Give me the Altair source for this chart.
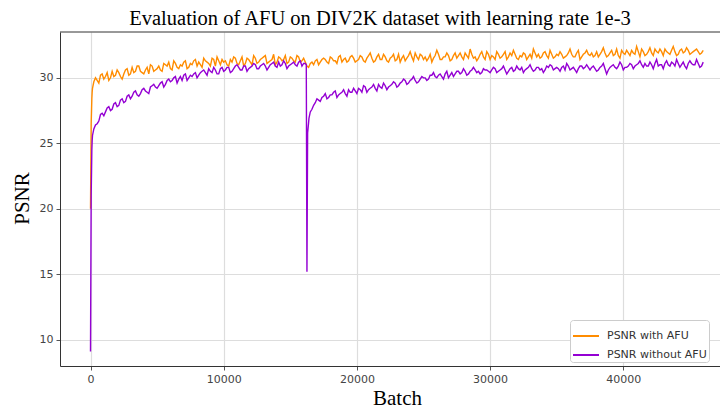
import altair as alt
import pandas as pd

TITLE = "Evaluation of AFU on DIV2K dataset with learning rate 1e-3"
SERIES = ["PSNR with AFU", "PSNR without AFU"]
COLORS = ["#FF8C00", "#9400D3"]
X_TICKS = [0, 10000, 20000, 30000, 40000]
Y_TICKS = [10, 15, 20, 25, 30]

# sampled batch positions: every 250 batches (plus a few early points) ...
BATCH = [0, 50, 100, 150] + list(range(250, 46001, 250))
# ... and the samples half-way in between
MID_BATCH = list(range(125, 46000, 250))

WITH_AFU = [20.0, 26.5, 28.4, 29.2,
    29.7, 29.8, 30.2, 29.9, 30.4, 30.0, 30.1, 30.6, 30.1, 30.3,
    30.7, 30.3, 30.4, 30.9, 30.5, 30.3, 30.8, 31.0, 30.5, 30.7,
    30.6, 31.1, 30.9, 30.7, 31.3, 30.8, 31.0, 31.2, 30.7, 31.1,
    31.3, 30.9, 31.0, 31.5, 31.2, 30.9, 31.4, 31.6, 31.0, 31.2,
    31.0, 31.4, 31.6, 31.1, 31.3, 30.9, 31.5, 31.2, 31.7, 31.1,
    31.4, 31.6, 31.1, 31.3, 31.8, 31.2, 31.5, 31.4, 31.1, 31.6,
    31.3, 31.7, 31.2, 31.5, 30.9, 31.1, 31.0, 31.4, 31.2, 31.5,
    31.2, 31.6, 31.3, 31.1, 31.7, 31.4, 31.2, 31.6, 31.5, 31.3,
    31.7, 31.3, 31.5, 31.9, 31.2, 31.6, 31.4, 31.8, 31.3, 31.5,
    31.8, 31.4, 31.2, 31.7, 31.5, 32.0, 31.3, 31.6, 31.8, 31.4,
    31.3, 31.8, 31.5, 32.1, 31.4, 31.6, 31.9, 31.3, 31.7, 31.5,
    31.9, 31.4, 31.7, 32.2, 31.5, 31.3, 31.8, 31.6, 32.0, 31.4,
    31.6, 32.0, 31.5, 31.8, 31.4, 31.9, 32.1, 31.5, 31.7, 31.9,
    31.4, 31.8, 32.2, 31.6, 31.5, 31.9, 31.7, 32.1, 31.5, 31.8,
    32.0, 31.5, 31.7, 32.2, 31.6, 31.9, 31.4, 31.8, 32.1, 31.7,
    31.6, 32.0, 31.8, 32.3, 31.6, 31.9, 31.7, 32.2, 31.5, 31.9,
    32.1, 31.7, 31.9, 32.4, 31.6, 32.0, 31.8, 32.3, 31.7, 32.0,
    32.2, 31.7, 32.0, 31.8, 32.4, 31.7, 32.1, 31.9, 32.3, 31.8,
    32.0, 32.2, 31.8, 32.1]

WITH_AFU_MID = [
    28.9, 30.0, 29.6, 30.3, 30.1, 29.8, 30.5, 30.2, 30.4, 29.9,
    30.6, 30.2, 30.8, 30.5, 30.9, 30.4, 30.6, 30.3, 30.9, 30.6,
    30.9, 30.5, 31.0, 31.2, 30.6, 31.1, 30.7, 30.9, 31.3, 30.8,
    31.0, 31.4, 31.2, 30.8, 31.3, 31.1, 31.5, 30.9, 31.3, 31.4,
    31.3, 30.9, 31.2, 31.5, 31.0, 31.6, 31.1, 31.4, 31.0, 31.5,
    31.2, 31.5, 31.7, 31.2, 31.4, 31.0, 31.6, 31.3, 31.7, 31.2,
    31.5, 31.2, 31.6, 31.3, 31.2, 30.8, 31.2, 31.3, 31.0, 31.4,
    31.4, 31.1, 31.5, 31.3, 31.6, 31.2, 31.5, 31.3, 31.7, 31.2,
    31.4, 31.6, 31.2, 31.7, 31.5, 31.3, 31.8, 31.4, 31.6, 31.2,
    31.6, 31.3, 31.8, 31.5, 31.3, 31.7, 31.6, 31.9, 31.4, 31.7,
    31.6, 31.5, 31.2, 31.7, 31.8, 31.4, 31.6, 31.7, 31.4, 31.9,
    31.7, 31.6, 31.9, 31.5, 31.8, 31.6, 31.5, 32.0, 31.4, 31.8,
    31.7, 31.4, 31.8, 31.6, 32.0, 31.6, 31.7, 31.8, 31.4, 31.6,
    31.8, 31.6, 31.5, 31.9, 31.8, 31.6, 32.0, 31.5, 31.8, 31.6,
    31.7, 31.8, 31.6, 31.9, 31.8, 31.6, 32.1, 31.6, 31.9, 31.8,
    31.9, 31.7, 31.6, 32.0, 31.9, 31.7, 32.1, 31.8, 31.7, 32.1,
    31.8, 31.9, 32.1, 31.8, 32.0, 32.2, 31.7, 32.0, 31.9, 32.2,
    31.9, 32.0, 32.2, 31.9, 32.1, 32.0, 31.8, 32.2, 32.0, 32.1,
    31.9, 32.1, 32.0, 31.9]

WITHOUT_AFU = [9.1, 21.0, 24.5, 25.6,
    26.1, 26.5, 27.2, 27.1, 27.7, 27.5, 28.0, 27.8, 28.3, 28.1,
    28.6, 28.4, 28.9, 28.7, 28.8, 29.2, 28.9, 29.3, 29.5, 29.2,
    29.6, 29.3, 29.8, 29.7, 30.0, 29.6, 30.1, 30.2, 29.8, 30.2,
    30.3, 30.0, 30.4, 30.6, 30.2, 30.5, 30.8, 30.3, 30.7, 30.5,
    30.8, 30.4, 30.7, 31.0, 30.6, 30.9, 30.5, 30.8, 31.1, 30.7,
    30.9, 31.1, 30.6, 31.0, 31.2, 30.8, 30.9, 31.3, 30.7, 31.0,
    31.2, 30.9, 31.3, 31.1, 15.2, 27.4, 27.9, 28.4, 28.2, 28.6,
    28.4, 28.7, 28.9, 28.5, 28.8, 29.1, 28.6, 28.9, 29.2, 28.8,
    29.1, 29.4, 28.9, 29.2, 29.5, 29.0, 29.3, 29.6, 29.1, 29.4,
    29.7, 29.3, 29.6, 29.9, 29.5, 29.8, 30.1, 29.6, 29.9, 30.0,
    29.8, 30.2, 30.4, 30.0, 30.3, 29.9, 30.5, 30.2, 30.1, 30.5,
    30.3, 30.7, 30.2, 30.5, 30.8, 30.4, 30.3, 30.7, 30.6, 30.4,
    30.8, 30.4, 30.6, 30.9, 30.3, 30.7, 30.5, 30.9, 30.6, 30.4,
    30.7, 31.0, 30.5, 30.8, 30.6, 30.4, 30.9, 31.0, 30.6, 30.8,
    30.5, 30.9, 31.1, 30.6, 30.8, 30.4, 30.9, 30.7, 31.0, 30.6,
    30.9, 30.5, 30.8, 31.1, 30.3, 30.8, 31.0, 30.7, 31.2, 30.6,
    30.8, 31.1, 30.7, 31.0, 31.3, 30.8, 30.9, 31.2, 30.7, 31.4,
    31.0, 30.7, 31.3, 30.9, 31.1, 31.4, 30.8, 31.2, 30.7, 31.3,
    31.0, 31.4, 30.8, 31.2]

WITHOUT_AFU_MID = [
    25.2, 26.4, 26.7, 27.3, 27.4, 27.8, 27.6, 28.1, 27.9, 28.4,
    28.2, 28.7, 28.6, 29.0, 28.6, 29.1, 29.0, 28.8, 29.4, 29.3,
    29.4, 29.7, 29.5, 29.9, 29.8, 30.1, 29.9, 29.8, 30.3, 30.0,
    30.1, 30.4, 30.2, 30.5, 30.4, 30.7, 30.4, 30.6, 30.3, 30.8,
    30.6, 30.8, 30.5, 30.9, 30.8, 30.6, 30.9, 30.7, 30.9, 31.0,
    30.7, 31.0, 30.9, 30.8, 31.1, 30.9, 31.2, 31.0, 31.1, 30.9,
    31.1, 31.0, 31.2, 30.9, 31.1, 26.6, 27.6, 28.1, 28.3, 28.5,
    28.8, 28.5, 28.7, 29.0, 28.7, 28.9, 28.8, 29.1, 28.9, 29.0,
    29.2, 28.9, 29.3, 29.1, 29.3, 29.2, 29.5, 29.2, 29.4, 29.3,
    29.5, 29.6, 29.4, 29.7, 29.8, 29.6, 29.9, 29.8, 29.7, 30.1,
    30.0, 29.9, 30.2, 30.1, 30.2, 30.1, 30.3, 30.0, 30.4, 30.3,
    30.5, 30.4, 30.5, 30.3, 30.6, 30.6, 30.5, 30.4, 30.6, 30.5,
    30.6, 30.7, 30.5, 30.7, 30.6, 30.5, 30.8, 30.6, 30.7, 30.8,
    30.6, 30.8, 30.7, 30.6, 30.8, 30.7, 30.6, 30.8, 30.9, 30.7,
    30.7, 30.8, 30.6, 30.9, 30.7, 30.6, 30.7, 30.9, 30.8, 30.8,
    30.8, 30.7, 30.6, 30.9, 30.7, 30.6, 30.9, 30.8, 30.9, 31.0,
    30.8, 30.9, 31.0, 30.9, 31.1, 31.0, 31.1, 30.9, 31.0, 31.1,
    30.9, 31.0, 31.1, 31.0, 31.2, 30.9, 31.1, 31.0, 30.9, 31.1,
    31.1, 31.0, 31.1, 30.9]

# extra samples around the sudden drop of the run without AFU
DROP_BATCH = [16200, 16300, 16400]
DROP_VALUES = [31.0, 25.8, 26.9]

df_a = pd.DataFrame({"batch": BATCH + MID_BATCH, "psnr": WITH_AFU + WITH_AFU_MID,
                     "series": SERIES[0]}).sort_values("batch")
df_b = pd.DataFrame({"batch": BATCH + MID_BATCH + DROP_BATCH,
                     "psnr": WITHOUT_AFU + WITHOUT_AFU_MID + DROP_VALUES,
                     "series": SERIES[1]}).sort_values("batch")

x_enc = alt.X("batch:Q",
    scale=alt.Scale(domain=[-2290, 47260], nice=False, zero=False),
    axis=alt.Axis(values=X_TICKS, format="d", title="Batch",
                  titleX=337, titleY=38.5, titleBaseline="alphabetic"))
y_enc = alt.Y("psnr:Q",
    scale=alt.Scale(domain=[8.0, 33.5], nice=False, zero=False),
    axis=alt.Axis(values=Y_TICKS, title="PSNR",
                  titleX=-31.5, titleY=166, titleBaseline="alphabetic"))
color_enc = alt.Color("series:N",
    scale=alt.Scale(domain=SERIES, range=COLORS),
    legend=alt.Legend(title=None, orient="none", legendX=510, legendY=288,
                      symbolType="M-1,0L1,0", symbolStrokeWidth=2, symbolSize=676,
                      labelFont="DejaVu Sans", labelFontSize=11, labelColor="#333",
                      labelOffset=7,
                      fillColor="white", strokeColor="#cccccc", padding=2,
                      cornerRadius=3, rowPadding=0))

line_a = alt.Chart(df_a).mark_line(strokeWidth=1.4).encode(x=x_enc, y=y_enc, color=color_enc)
line_b = alt.Chart(df_b).mark_line(strokeWidth=1.4).encode(x=x_enc, y=y_enc, color=color_enc)
top_rule = alt.Chart(pd.DataFrame({"k": [0]})).mark_rule(color="#333", strokeWidth=1).encode(
    y=alt.value(0))

chart = alt.layer(line_a, line_b, top_rule).properties(
    width=660, height=334,
    autosize=alt.AutoSizeParams(type="none"),
    padding={"left": 52, "top": 24, "right": 0, "bottom": 44},
    title=alt.TitleParams(text=TITLE, font="Liberation Serif", fontSize=20.5,
                          fontWeight="normal", color="black", offset=2, dx=-10),
).configure_view(stroke=None).configure_axis(
    labelFont="DejaVu Sans", labelFontSize=11, labelColor="#444",
    titleFont="Liberation Serif", titleFontSize=21, titleFontWeight="normal",
    titleColor="black", tickColor="#555", tickSize=4, domainColor="#333",
    gridColor="#dddddd", gridWidth=1.2, labelPadding=3,
)

chart.save("out.html", embed_options={"renderer": "svg", "actions": False})
